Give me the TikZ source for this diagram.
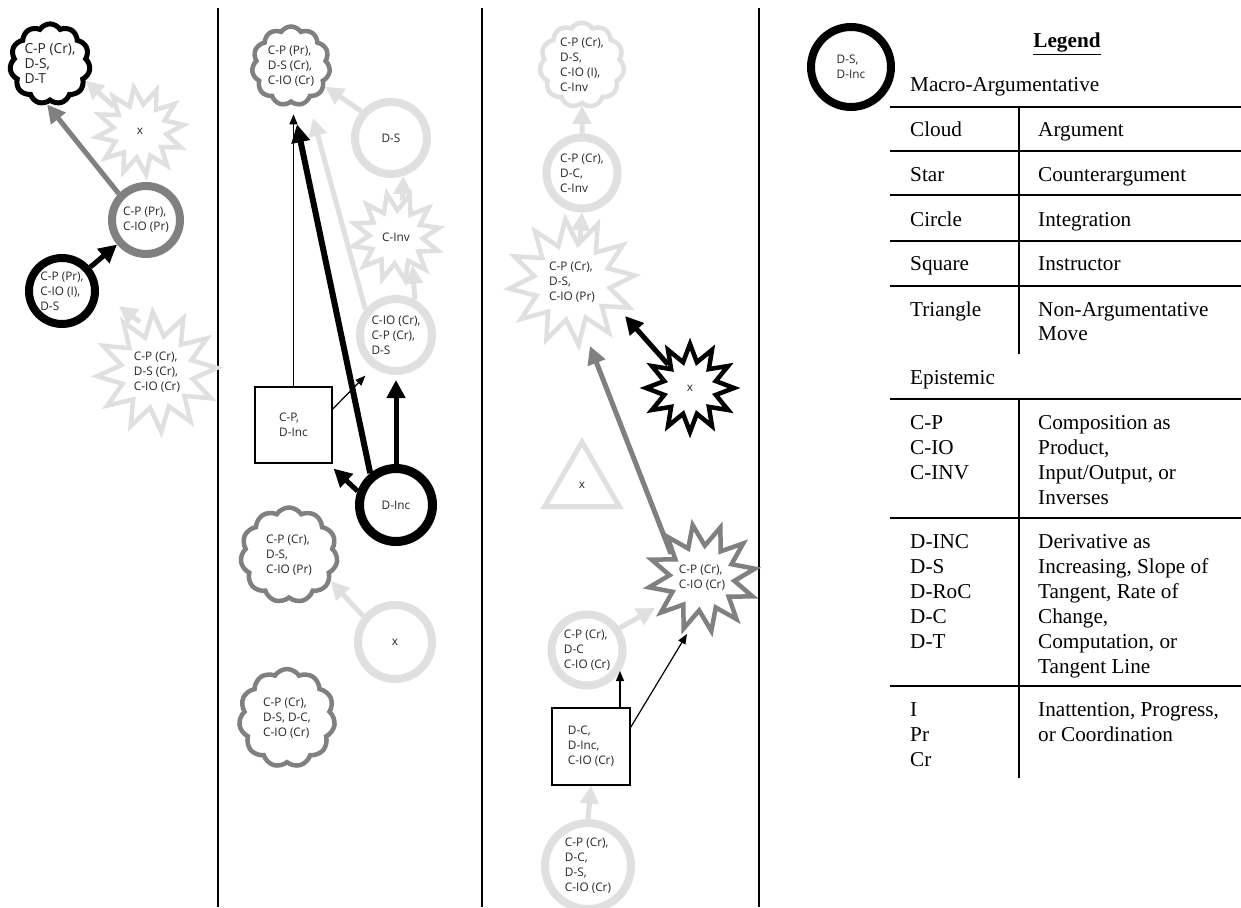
\documentclass[tikz,border=0pt]{standalone}
\usepackage{fontspec}
\setmainfont{Liberation Serif}
\newfontfamily\osans{Open Sans}
\usetikzlibrary{shapes.geometric,shapes.symbols,arrows.meta,calc}
\definecolor{lg}{RGB}{224,224,224}
\definecolor{mg}{RGB}{128,128,128}
\tikzset{
 lbl/.style={font=\osans\fontsize{11.8}{15}\selectfont, align=left, inner sep=0pt, text=black!85, fill=white},
 circ/.style={lbl, circle, line width=8pt, minimum size=#1},
 cld/.style={lbl, cloud, cloud puffs=11, cloud puff arc=115, line width=4.5pt, aspect=1},
 expl/.style={lbl, star, star points=12, star point ratio=1.65, line width=4.5pt, minimum size=#1},
 sqbox/.style={lbl, rectangle, draw=black, line width=1.2pt, minimum width=77pt, minimum height=76pt},
 thickarr/.style={line width=5pt, -{Triangle[length=18pt,width=18pt]}},
 thinarr/.style={line width=1.2pt, draw=black, -{Triangle[length=10pt,width=8pt]}},
 leg/.style={font=\fontsize{21.2}{25}\selectfont, inner sep=0pt, anchor=base west},
 rule/.style={line width=1.8pt, draw=black},
 divider/.style={line width=1.5pt, draw=black},
}
\begin{document}
\begin{tikzpicture}[x=1pt,y=-1pt]
\fill[white] (0,0) rectangle (1241,907);
\useasboundingbox (0,0) rectangle (1241,907);
% dividers
\draw[divider] (218,8) -- (218,907);
\draw[divider] (482,8) -- (482,907);
\draw[divider] (759,8) -- (759,907);

% ---------- column 1
\node[cld, draw=black, line width=5pt, minimum width=71pt, minimum height=73pt, font=\osans\fontsize{13.8}{15}\selectfont] (k1) at (50,64) {C-P (Cr),\\D-S,\\D-T};
\node[expl=88, draw=lg, shape border rotate=8] (s1x) at (140,131) {x};
\node[circ=68, draw=mg] (c1g) at (146,220) {C-P (Pr),\\C-IO (Pr)};
\node[circ=66, draw=black] (c1b) at (62,291) {C-P (Pr),\\C-IO (I),\\D-S};
\node[expl=120, draw=lg, shape border rotate=4] (s1b) at (157,372) {C-P (Cr),\\D-S (Cr),\\C-IO (Cr)};

% ---------- column 2
\node[cld, draw=mg, minimum width=78pt, minimum height=79pt] (k2) at (291,66) {C-P (Pr),\\D-S (Cr),\\C-IO (Cr)};
\node[circ=72, draw=lg] (ds) at (391,138) {D-S};
\node[expl=88, draw=lg, shape border rotate=12] (cinv) at (396,237) {C-Inv};
\node[circ=72, draw=lg] (cio) at (396,335) {C-IO (Cr),\\C-P (Cr),\\D-S};
\node[sqbox] (sq2) at (293.5,425) {C-P,\\D-Inc};
\node[circ=73, draw=black, line width=9pt] (dinc) at (396,505) {D-Inc};
\node[cld, draw=mg, minimum width=97pt, minimum height=95pt] (k3) at (289,555) {C-P (Cr),\\D-S,\\C-IO (Pr)};
\node[circ=74, draw=lg] (xc) at (395,642) {x};
\node[cld, draw=mg, minimum width=96pt, minimum height=98pt] (k5) at (287,718) {C-P (Cr),\\D-S, D-C,\\C-IO (Cr)};

% ---------- column 3
\node[cld, draw=lg, minimum width=71pt, minimum height=80pt] (k4) at (582,65) {C-P (Cr),\\D-S,\\C-IO (I),\\C-Inv};
\node[circ=71, draw=lg] (c3a) at (582,173) {C-P (Cr),\\D-C,\\C-Inv};
\node[expl=126, draw=lg, shape border rotate=6] (s3a) at (572,282) {C-P (Cr),\\D-S,\\C-IO (Pr)};
\node[expl=88, draw=black] (bstar) at (690,388) {x};
\node[lbl, regular polygon, regular polygon sides=3, draw=lg, line width=5pt, minimum size=86pt] (tri) at (582,485) {x};
\node[expl=104, draw=mg, shape border rotate=10] (gstar) at (702,578) {C-P (Cr),\\C-IO (Cr)};
\node[circ=71, draw=lg] (c3b) at (587,650) {C-P (Cr),\\D-C\\C-IO (Cr)};
\node[sqbox, minimum width=78pt, minimum height=77pt] (sq3) at (591,746.5) {D-C,\\D-Inc,\\C-IO (Cr)};
\node[circ=86, draw=lg] (c3c) at (588,866) {C-P (Cr),\\D-C,\\D-S,\\C-IO (Cr)};

% ---------- connectors column 1
\draw[thickarr, black] (c1b) -- (c1g);
\draw[thickarr, mg] (c1g.136) -- (k1.266);
\draw[thickarr, lg] (s1x.137) -- (k1.-25);
\draw[thickarr, lg, shorten >=25pt] ($(s1b)+(-17,-50)$) -- (c1b.east);

% ---------- connectors column 2
\draw[thinarr, shorten >=10pt] (sq2.north) -- (sq2.north |- k2.south);
\draw[thickarr, black, line width=6pt] (dinc.129) -- ($(k2.south)+(6,20)$);
\draw[thickarr, lg] (cio.140) -- ($(k2)+(22,52)$);
\draw[thickarr, lg] (ds.138) -- (k2.-31);
\draw[thickarr, lg] (cinv.80) -- (ds.-72);
\draw[thickarr, lg] (cio.62) -- (cinv.-60);
\draw[thinarr, shorten >=11pt] (sq2.22) -- (cio.235);
\draw[thickarr, black, shorten >=5pt] (dinc.north) -- (cio.south);
\draw[thickarr, black] (dinc.160) -- ($(sq2.south east)+(1,5)$);
\draw[thickarr, lg] (xc.141) -- (k3.-32);

% ---------- connectors column 3
\draw[thickarr, lg] (c3a.north) -- (k4.south);
\draw[thickarr, lg] ($(s3a)+(8,-42)$) -- (c3a.south);
\draw[thickarr, black] (bstar.133) -- ($(s3a)+(53,34)$);
\draw[thickarr, mg] (gstar.142) -- ($(s3a)+(18,64)$);
\draw[thickarr, lg] (c3b.34) -- ($(gstar)+(-47,30)$);
\draw[thinarr] ($(sq3.north)+(29,0)$) -- ($(c3b)+(33,21)$);
\draw[thinarr] ($(sq3.north east)+(0,20)$) -- ($(gstar)+(-15,56)$);
\draw[thickarr, lg] (c3c.north) -- (sq3.south);

% ---------- legend
\node[circ=80, draw=black] (lc) at (851,67) {D-S,\\D-Inc};
\node[font=\bfseries\fontsize{21.2}{25}\selectfont, inner sep=0pt, anchor=base] (lt) at (1067,48) {\underline{Legend}};
\node[leg] (lma) at (910,92) {Macro-Argumentative};
\draw[rule] (890,107) -- (1241,107);
\draw[rule] (890,151) -- (1241,151);
\draw[rule] (890,195) -- (1241,195);
\draw[rule] (890,241) -- (1241,241);
\draw[rule] (890,286) -- (1241,286);
\draw[rule] (1019,107) -- (1019,354);
\node[leg] (ra1) at (910,136) {Cloud};
\node[leg] (rb1) at (1038,136) {Argument};
\node[leg] (ra2) at (910,181) {Star};
\node[leg] (rb2) at (1038,181) {Counterargument};
\node[leg] (ra3) at (910,226) {Circle};
\node[leg] (rb3) at (1038,226) {Integration};
\node[leg] (ra4) at (910,270) {Square};
\node[leg] (rb4) at (1038,270) {Instructor};
\node[leg] (ra5) at (910,316) {Triangle};
\node[leg] (rb5) at (1038,316) {Non-Argumentative};
\node[leg] (rb6) at (1038,340) {Move};

\node[leg] (lep) at (910,384) {Epistemic};
\draw[rule] (890,399) -- (1241,399);
\draw[rule] (890,518) -- (1241,518);
\draw[rule] (890,686) -- (1241,686);
\draw[rule] (1019,399) -- (1019,778);
\foreach \t [count=\i] in {C-P,C-IO,C-INV}
  \node[leg] (ea\i) at (910,404+25*\i) {\t};
\foreach \t [count=\i] in {Composition as,{Product,},{Input/Output, or},Inverses}
  \node[leg] (eb\i) at (1038,404+25*\i) {\t};
\foreach \t [count=\i] in {D-INC,D-S,D-RoC,D-C,D-T}
  \node[leg] (fa\i) at (910,523+25*\i) {\t};
\foreach \t [count=\i] in {Derivative as,{Increasing, Slope of},{Tangent, Rate of},{Change,},{Computation, or},Tangent Line}
  \node[leg] (fb\i) at (1038,523+25*\i) {\t};
\foreach \t [count=\i] in {I,Pr,Cr}
  \node[leg] (ga\i) at (910,691+25*\i) {\t};
\foreach \t [count=\i] in {{Inattention, Progress,},or Coordination}
  \node[leg] (gb\i) at (1038,691+25*\i) {\t};
\end{tikzpicture}
\end{document}
